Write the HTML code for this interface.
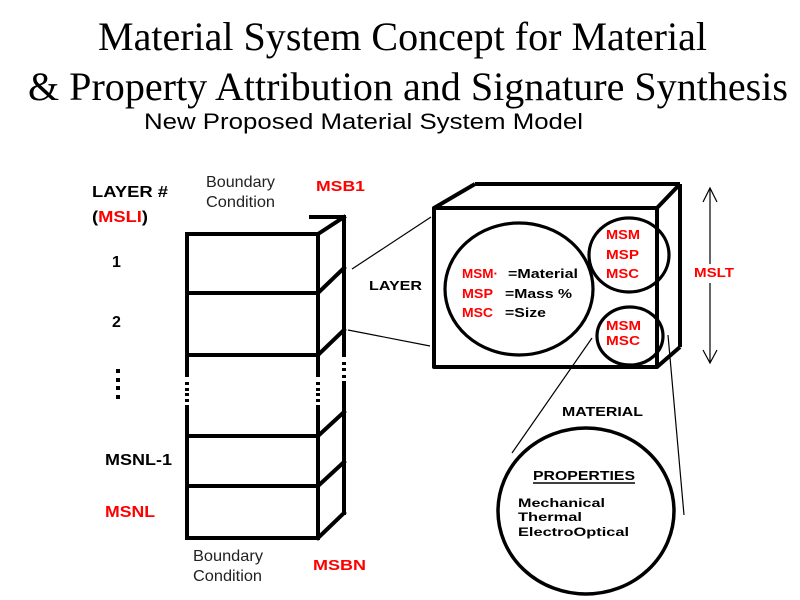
<!DOCTYPE html>
<html>
<head>
<meta charset="utf-8">
<style>
html,body{margin:0;padding:0;background:#fff;}
svg{display:block;}
.t{font-family:"Liberation Serif",serif;font-size:40px;fill:#000;}
.s{font-family:"Liberation Sans",sans-serif;}
.b{font-family:"Liberation Sans",sans-serif;font-weight:bold;}
.r{fill:#ff0000;}
</style>
</head>
<body>
<svg width="800" height="600" viewBox="0 0 800 600" xmlns="http://www.w3.org/2000/svg">
<rect width="800" height="600" fill="#fff"/>
<!-- Titles -->
<text class="t" x="98" y="50" textLength="609" lengthAdjust="spacingAndGlyphs">Material System Concept for Material</text>
<text class="t" x="28" y="100" textLength="760" lengthAdjust="spacingAndGlyphs">&amp; Property Attribution and Signature Synthesis</text>
<text class="s" x="144" y="129" font-size="22" textLength="439" lengthAdjust="spacingAndGlyphs">New Proposed Material System Model</text>

<!-- Left labels -->
<text class="b" x="92" y="197" font-size="16" textLength="76" lengthAdjust="spacingAndGlyphs">LAYER #</text>
<text class="b" x="92" y="222" font-size="16" textLength="56" lengthAdjust="spacingAndGlyphs">(<tspan class="r">MSLI</tspan>)</text>
<text class="b" x="112" y="267" font-size="16">1</text>
<text class="b" x="112" y="327" font-size="16">2</text>
<g fill="#000">
<rect x="116" y="369" width="4" height="4"/>
<rect x="116" y="378" width="4" height="4"/>
<rect x="116" y="386" width="4" height="4"/>
<rect x="116" y="395" width="4" height="4"/>
</g>
<text class="b" x="105" y="465" font-size="16" textLength="67" lengthAdjust="spacingAndGlyphs">MSNL-1</text>
<text class="b r" x="105" y="517" font-size="16" textLength="50" lengthAdjust="spacingAndGlyphs">MSNL</text>

<text class="s" x="206" y="187" font-size="16" fill="#222" textLength="69" lengthAdjust="spacingAndGlyphs">Boundary</text>
<text class="s" x="206" y="207" font-size="16" fill="#222" textLength="69" lengthAdjust="spacingAndGlyphs">Condition</text>
<text class="b r" x="316" y="191" font-size="15" textLength="49" lengthAdjust="spacingAndGlyphs">MSB1</text>

<text class="s" x="193" y="561" font-size="16" fill="#222" textLength="70" lengthAdjust="spacingAndGlyphs">Boundary</text>
<text class="s" x="193" y="581" font-size="16" fill="#222" textLength="69" lengthAdjust="spacingAndGlyphs">Condition</text>
<text class="b r" x="313" y="570" font-size="15" textLength="53" lengthAdjust="spacingAndGlyphs">MSBN</text>

<!-- Stack -->
<g stroke="#000" stroke-width="4" fill="none" stroke-linecap="square">
<line x1="187" y1="234" x2="187" y2="375"/>
<line x1="187" y1="407" x2="187" y2="538"/>
<line x1="318" y1="234" x2="318" y2="375"/>
<line x1="318" y1="407" x2="318" y2="538"/>
<line x1="344" y1="217" x2="344" y2="355"/>
<line x1="344" y1="383" x2="344" y2="513"/>
<line x1="187" y1="234" x2="318" y2="234"/>
<line x1="187" y1="293" x2="318" y2="293"/>
<line x1="187" y1="355" x2="318" y2="355"/>
<line x1="187" y1="436" x2="318" y2="436"/>
<line x1="187" y1="486" x2="318" y2="486"/>
<line x1="187" y1="538" x2="318" y2="538"/>
<line x1="311" y1="217" x2="344" y2="217"/>
<line x1="318" y1="234" x2="344" y2="217"/>
<line x1="318" y1="293" x2="344" y2="268"/>
<line x1="318" y1="355" x2="344" y2="330"/>
<line x1="318" y1="436" x2="344" y2="412"/>
<line x1="318" y1="486" x2="344" y2="462"/>
<line x1="318" y1="538" x2="344" y2="513"/>
</g>
<g fill="#000">
<rect x="185" y="382" width="4" height="3"/>
<rect x="185" y="388" width="4" height="3"/>
<rect x="185" y="393" width="4" height="3"/>
<rect x="185" y="399" width="4" height="3"/>
<rect x="316" y="382" width="4" height="3"/>
<rect x="316" y="388" width="4" height="3"/>
<rect x="316" y="393" width="4" height="3"/>
<rect x="316" y="399" width="4" height="3"/>
<rect x="342" y="362" width="4" height="3"/>
<rect x="342" y="368" width="4" height="3"/>
<rect x="342" y="375" width="4" height="3"/>
</g>

<!-- connector lines -->
<g stroke="#000" stroke-width="1.2" fill="none">
<line x1="352" y1="269" x2="431" y2="217"/>
<line x1="348" y1="330" x2="430" y2="346"/>
<line x1="592" y1="338" x2="512" y2="453"/>
<line x1="668" y1="335" x2="684" y2="515"/>
</g>
<text class="b" x="369" y="290" font-size="13" textLength="53" lengthAdjust="spacingAndGlyphs">LAYER</text>

<!-- Box -->
<g stroke="#000" stroke-width="4" fill="none" stroke-linejoin="round">
<rect x="434" y="208" width="223" height="159"/>
<line x1="434" y1="208" x2="475" y2="184"/>
<line x1="475" y1="184" x2="680" y2="184"/>
<line x1="657" y1="208" x2="680" y2="184"/>
<line x1="680" y1="184" x2="680" y2="347"/>
<line x1="657" y1="367" x2="680" y2="347"/>
</g>
<g stroke="#000" stroke-width="3.2" fill="none">
<ellipse cx="519" cy="289" rx="74" ry="66"/>
<ellipse cx="629" cy="255" rx="40" ry="37"/>
<ellipse cx="630" cy="336" rx="33" ry="29"/>
</g>
<text class="b r" x="462" y="278" font-size="13" textLength="36" lengthAdjust="spacingAndGlyphs">MSM·</text>
<text class="b" x="508" y="278" font-size="13" textLength="70" lengthAdjust="spacingAndGlyphs">=Material</text>
<text class="b r" x="462" y="298" font-size="13" textLength="31" lengthAdjust="spacingAndGlyphs">MSP</text>
<text class="b" x="505" y="298" font-size="13" textLength="67" lengthAdjust="spacingAndGlyphs">=Mass %</text>
<text class="b r" x="462" y="317" font-size="13" textLength="31" lengthAdjust="spacingAndGlyphs">MSC</text>
<text class="b" x="505" y="317" font-size="13" textLength="41" lengthAdjust="spacingAndGlyphs">=Size</text>

<text class="b r" x="606" y="239" font-size="13" textLength="34" lengthAdjust="spacingAndGlyphs">MSM</text>
<text class="b r" x="606" y="259" font-size="13" textLength="33" lengthAdjust="spacingAndGlyphs">MSP</text>
<text class="b r" x="606" y="278" font-size="13" textLength="33" lengthAdjust="spacingAndGlyphs">MSC</text>
<text class="b r" x="606" y="330" font-size="13" textLength="35" lengthAdjust="spacingAndGlyphs">MSM</text>
<text class="b r" x="606" y="345" font-size="13" textLength="34" lengthAdjust="spacingAndGlyphs">MSC</text>

<!-- MSLT arrow -->
<g stroke="#000" stroke-width="1.2" fill="none">
<line x1="710" y1="188" x2="710" y2="363"/>
<polyline points="703,202 710,188 717,202"/>
<polyline points="703,350 710,363 717,350"/>
</g>
<rect x="692" y="264" width="44" height="19" fill="#fff"/>
<text class="b r" x="694" y="277" font-size="13" textLength="40" lengthAdjust="spacingAndGlyphs">MSLT</text>

<!-- Material circle -->
<text class="b" x="562" y="416" font-size="13" textLength="81" lengthAdjust="spacingAndGlyphs">MATERIAL</text>
<ellipse cx="586" cy="511" rx="88" ry="83" stroke="#000" stroke-width="3.5" fill="none"/>
<text class="b" x="533" y="480" font-size="13" textLength="102" lengthAdjust="spacingAndGlyphs">PROPERTIES</text>
<line x1="533" y1="483" x2="635" y2="483" stroke="#000" stroke-width="1.5"/>
<text class="b" x="518" y="507" font-size="12" textLength="87" lengthAdjust="spacingAndGlyphs">Mechanical</text>
<text class="b" x="518" y="521" font-size="12" textLength="64" lengthAdjust="spacingAndGlyphs">Thermal</text>
<text class="b" x="518" y="536" font-size="12" textLength="111" lengthAdjust="spacingAndGlyphs">ElectroOptical</text>
</svg>
</body>
</html>
